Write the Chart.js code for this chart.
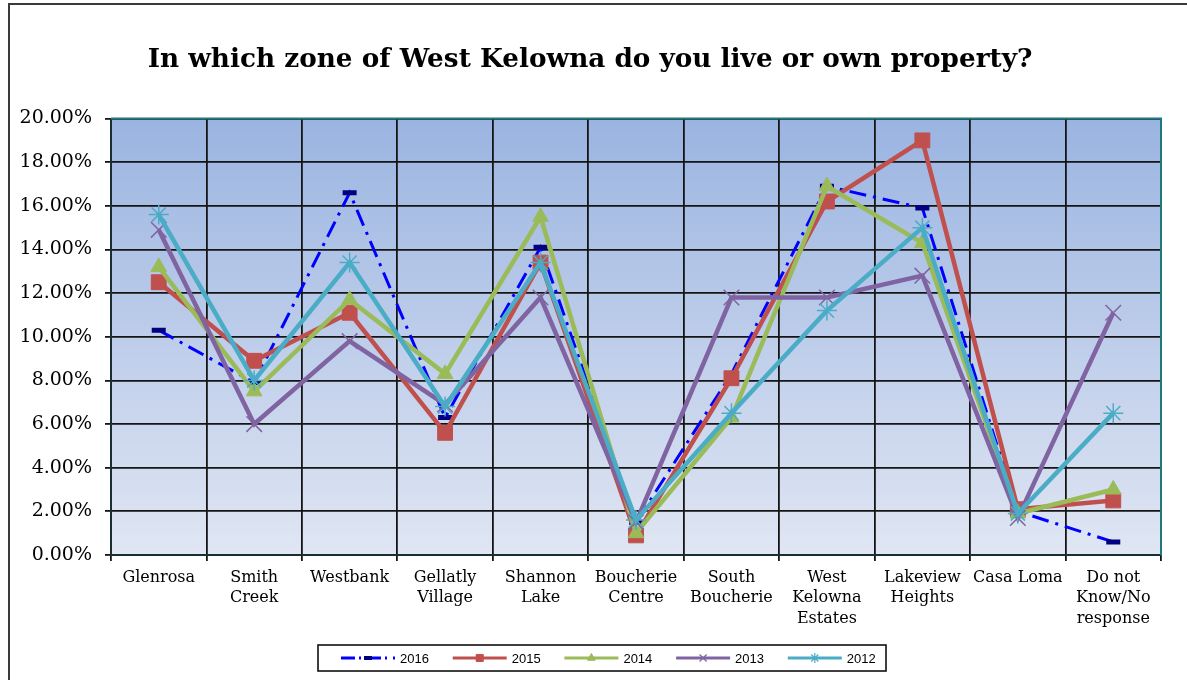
<!DOCTYPE html>
<html>
<head>
<meta charset="utf-8">
<script src="https://cdn.jsdelivr.net/npm/chart.js@4.4.1/dist/chart.umd.min.js"></script>
<style>
  html, body { margin: 0; padding: 0; background: #fff; }
  #wrap { position: relative; width: 1187px; height: 680px; overflow: hidden; }
  #frameL { position: absolute; left: 8px; top: 3px; width: 2px; height: 680px; background: #3a3a3a; }
  #frameT { position: absolute; left: 8px; top: 3px; width: 1179px; height: 2px; background: #3a3a3a; }
</style>
</head>
<body>
<div id="wrap">
  <canvas id="c"></canvas>
  <div id="frameL"></div>
  <div id="frameT"></div>
</div>
<script>
const categories = ['Glenrosa', ['Smith', 'Creek'], 'Westbank', ['Gellatly', 'Village'], ['Shannon', 'Lake'], ['Boucherie', 'Centre'], ['South', 'Boucherie'], ['West', 'Kelowna', 'Estates'], ['Lakeview', 'Heights'], 'Casa Loma', ['Do not', 'Know/No', 'response']];
const seriesNames = ['2016', '2015', '2014', '2013', '2012'];
const values2016 = [10.3, 7.9, 16.6, 6.3, 14.1, 1.5, 8.3, 16.9, 15.9, 2.0, 0.6];
const values2015 = [12.5, 8.9, 11.1, 5.6, 13.4, 0.9, 8.1, 16.2, 19.0, 2.1, 2.5];
const values2014 = [13.2, 7.5, 11.7, 8.3, 15.5, 1.0, 6.3, 16.9, 14.3, 1.9, 3.0];
const values2013 = [14.9, 6.0, 9.8, 6.9, 11.8, 1.5, 11.8, 11.8, 12.8, 1.7, 11.1];
const values2012 = [15.6, 8.0, 13.4, 6.8, 13.4, 1.6, 6.5, 11.2, 15.0, 1.9, 6.5];
const yTicks = [0, 2, 4, 6, 8, 10, 12, 14, 16, 18, 20];
const titleText = 'In which zone of West Kelowna do you live or own property?';

const datasets = [
  { label: seriesNames[0], data: values2016, borderColor: '#0000FF', borderWidth: 3, borderDash: [17, 7, 3, 7],
    pointStyle: 'line', pointRadius: 7, pointBorderWidth: 5, pointBorderColor: '#000080', pointBackgroundColor: '#000080', order: 4,
    legendMarker: { style: 'line', r: 4, w: 4, color: '#000080' } },
  { label: seriesNames[1], data: values2015, borderColor: '#C0504D', borderWidth: 4.5,
    pointStyle: 'rect', pointRadius: 10.5, pointBorderWidth: 1, pointBorderColor: '#C0504D', pointBackgroundColor: '#C0504D', order: 3,
    legendMarker: { style: 'rect', r: 5, w: 1, color: '#C0504D' } },
  { label: seriesNames[2], data: values2014, borderColor: '#9BBB59', borderWidth: 4.5,
    pointStyle: 'triangle', pointRadius: 9, pointBorderWidth: 1, pointBorderColor: '#9BBB59', pointBackgroundColor: '#9BBB59', order: 2,
    legendMarker: { style: 'triangle', r: 4.5, w: 1, color: '#9BBB59' } },
  { label: seriesNames[3], data: values2013, borderColor: '#8064A2', borderWidth: 4.5,
    pointStyle: 'crossRot', pointRadius: 11, pointBorderWidth: 1.5, pointBorderColor: '#8064A2', pointBackgroundColor: '#8064A2', order: 1,
    legendMarker: { style: 'crossRot', r: 5, w: 1.2, color: '#8064A2' } },
  { label: seriesNames[4], data: values2012, borderColor: '#4BACC6', borderWidth: 4.5,
    pointStyle: 'star', pointRadius: 10, pointBorderWidth: 1.5, pointBorderColor: '#4BACC6', pointBackgroundColor: '#4BACC6', order: 0,
    legendMarker: { style: 'star', r: 5, w: 1.2, color: '#4BACC6' } }
];
datasets.forEach(d => { d.fill = false; d.tension = 0; d.pointHoverRadius = d.pointRadius; });

const bgPlugin = {
  id: 'bg',
  beforeDraw(chart) {
    const { ctx, chartArea: a } = chart;
    const g = ctx.createLinearGradient(0, a.top, 0, a.bottom);
    g.addColorStop(0, '#9AB4E1');
    g.addColorStop(1, '#E0E6F3');
    ctx.save();
    ctx.fillStyle = g;
    ctx.fillRect(a.left, a.top, a.right - a.left, a.bottom - a.top);
    ctx.restore();
  },
  afterDatasetsDraw(chart) {
    const { ctx, chartArea: a } = chart;
    ctx.save();
    ctx.strokeStyle = '#1F7A80';
    ctx.lineWidth = 2;
    ctx.beginPath();
    ctx.moveTo(a.left, a.top);
    ctx.lineTo(a.right, a.top);
    ctx.lineTo(a.right, a.bottom);
    ctx.stroke();
    ctx.restore();
  }
};

const legendPlugin = {
  id: 'customLegend',
  afterDraw(chart) {
    const ctx = chart.ctx;
    const box = { x: 318, y: 645, w: 568, h: 26 };
    ctx.save();
    ctx.fillStyle = '#fff';
    ctx.fillRect(box.x, box.y, box.w, box.h);
    ctx.strokeStyle = '#000';
    ctx.lineWidth = 1.5;
    ctx.strokeRect(box.x, box.y, box.w, box.h);
    const cy = box.y + box.h / 2;
    chart.data.datasets.forEach((ds, i) => {
      const x0 = 341 + i * 111.7;
      const x1 = x0 + 54;
      ctx.save();
      ctx.strokeStyle = ds.borderColor;
      ctx.lineWidth = 3;
      if (ds.borderDash) ctx.setLineDash([14, 4, 2, 6]);
      ctx.beginPath();
      ctx.moveTo(x0, cy);
      ctx.lineTo(x1, cy);
      ctx.stroke();
      ctx.restore();
      const m = ds.legendMarker;
      ctx.save();
      ctx.fillStyle = m.color;
      ctx.strokeStyle = m.color;
      ctx.lineWidth = m.w;
      Chart.helpers.drawPoint(ctx, { pointStyle: m.style, radius: m.r, borderWidth: m.w, rotation: 0 }, (x0 + x1) / 2, cy);
      ctx.restore();
      ctx.fillStyle = '#000';
      ctx.font = '13px "Liberation Sans", Arial, sans-serif';
      ctx.textBaseline = 'middle';
      ctx.textAlign = 'left';
      ctx.fillText(ds.label, x1 + 5, cy + 1);
    });
    ctx.restore();
  }
};

new Chart(document.getElementById('c'), {
  type: 'line',
  data: { labels: categories, datasets: datasets },
  options: {
    responsive: true,
    maintainAspectRatio: false,
    animation: false,
    events: [],
    layout: { padding: { left: 19, right: 26, top: 0, bottom: 0 } },
    plugins: {
      legend: { display: false },
      tooltip: { enabled: false },
      title: {
        display: true,
        text: titleText,
        color: '#000',
        font: { family: '"DejaVu Serif", serif', size: 26.3, weight: 'bold' },
        padding: { top: 44, bottom: 43 }
      }
    },
    scales: {
      x: {
        offset: true,
        grid: { offset: true, color: '#151515', lineWidth: 1.8, tickLength: 6, drawTicks: true },
        border: { display: true, color: '#1A2F30', width: 2 },
        ticks: {
          autoSkip: false, maxRotation: 0, minRotation: 0, padding: 6, color: '#000',
          font: { family: '"DejaVu Serif", serif', size: 16, lineHeight: 1.3 }
        },
        afterFit(scale) { scale.height = 125; }
      },
      y: {
        min: 0, max: 20,
        afterBuildTicks(scale) { scale.ticks = yTicks.map(v => ({ value: v })); },
        grid: { color: '#151515', lineWidth: 1.8, tickLength: 6 },
        border: { display: true, color: '#1A2F30', width: 2 },
        ticks: {
          padding: 13, color: '#000',
          font: { family: '"DejaVu Serif", serif', size: 19 },
          callback: v => v.toFixed(2) + '%'
        },
        afterFit(scale) { scale.width = 92; }
      }
    }
  },
  plugins: [bgPlugin, legendPlugin]
});
</script>
</body>
</html>
